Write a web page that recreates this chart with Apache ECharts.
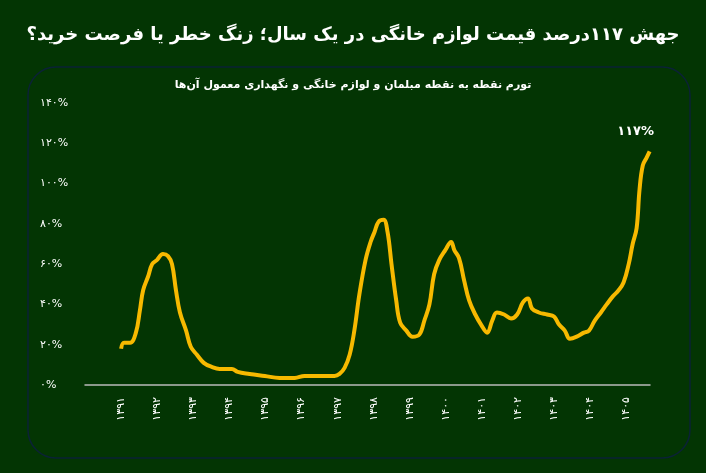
<!DOCTYPE html>
<html><head><meta charset="utf-8">
<script src="https://cdn.jsdelivr.net/npm/echarts@6/dist/echarts.min.js"></script>
<style>html,body{margin:0;padding:0;background:#033503}#c{width:706px;height:473px}</style>
</head><body><div id="c"></div>
<script>
const titleText = 'جهش ۱۱۷درصد قیمت لوازم خانگی در یک سال؛ زنگ خطر یا فرصت خرید؟';
const subtitleText = 'تورم نقطه به نقطه مبلمان و لوازم خانگی و نگهداری معمول آن‌ها';
const yearLabels = ['۱۳۹۱','۱۳۹۲','۱۳۹۳','۱۳۹۴','۱۳۹۵','۱۳۹۶','۱۳۹۷','۱۳۹۸','۱۳۹۹','۱۴۰۰','۱۴۰۱','۱۴۰۲','۱۴۰۳','۱۴۰۴','۱۴۰۵'];
const yLabels = ['۰%','۲۰%','۴۰%','۶۰%','۸۰%','۱۰۰%','۱۲۰%','۱۴۰%'];
// time in years since 1391
const t = [0,.08,.25,.41,.52,.61,.75,.86,.99,1.16,1.30,1.41,1.52,1.63,1.80,1.93,2.10,2.29,2.51,2.73,3.07,3.23,3.56,3.98,4.39,4.81,5.08,5.50,5.91,6.05,6.19,6.33,6.46,6.60,6.77,6.91,7.02,7.13,7.27,7.38,7.49,7.62,7.73,7.90,8.07,8.26,8.40,8.54,8.67,8.81,8.98,9.14,9.23,9.36,9.50,9.64,9.81,9.97,10.14,10.28,10.41,10.61,10.80,10.97,11.13,11.27,11.38,11.57,11.80,11.99,12.13,12.29,12.43,12.62,12.82,12.96,13.12,13.29,13.45,13.62,13.78,13.92,14.06,14.17,14.28,14.36,14.45,14.56,14.64];
const inflation = [18,21,21,26,37,47,54,60,62,65,64,60,47,36,27,19,15,11,9,8,8,6.5,5.5,4.5,3.5,3.5,4.5,4.5,4.5,5.5,8.5,15,27,45,62,71,76,81,82,76,60,42,31,27,24,25,32,40,55,62,67,71,67,63,52,42,35,30,26,32,36,35,33,35,41,43,38,36,35,34,30,27,23,24,26,27,32,36,40,44,47,51,60,70,78,97,109,113,116];
const lastLabel = '۱۱۷%';
const data = t.map((x,i)=> [x,inflation[i]]);
const chart = echarts.init(document.getElementById('c'));
chart.setOption({
  backgroundColor:'#033503',
  animation:false,
  graphic:[
    {type:'rect',shape:{x:28,y:67,width:662,height:391,r:28},style:{fill:'#033503',stroke:'#0b2236',lineWidth:1.5},z:-10},
    {type:'text',left:'center',top:26,style:{text:titleText,fill:'#fff',font:'bold 18px "DejaVu Sans"'}},
    {type:'text',left:'center',top:80,style:{text:subtitleText,fill:'#fff',font:'bold 11px "DejaVu Sans"'}}
  ],
  grid:{left:85,right:56,top:103,bottom:88},
  xAxis:{type:'value',min:-1,max:14.65,interval:1,
    axisLine:{lineStyle:{color:'#bbbbbb',width:1.5}},axisTick:{show:false},splitLine:{show:false},
    axisLabel:{rotate:90,color:'#fff',fontSize:11,fontFamily:'DejaVu Sans',margin:12,
      formatter:v=> (v>=0 && v<yearLabels.length) ? yearLabels[v] : ''}},
  yAxis:{type:'value',min:0,max:140,interval:20,
    axisLine:{show:false},axisTick:{show:false},splitLine:{show:false},
    axisLabel:{color:'#fff',fontSize:11,fontFamily:'DejaVu Sans',align:'left',margin:45,
      formatter:v=> yLabels[v/20]}},
  series:[{type:'line',data:data,smooth:0.4,symbol:'none',
    lineStyle:{color:'#f7b900',width:4},
    markPoint:{symbol:'circle',symbolSize:1,itemStyle:{color:'transparent'},
      data:[{coord:data[data.length-1],label:{show:true,position:'top',formatter:lastLabel,color:'#fff',fontWeight:'bold',fontSize:13,fontFamily:'DejaVu Sans',offset:[-14,-8]}}]}}]
});
</script></body></html>
